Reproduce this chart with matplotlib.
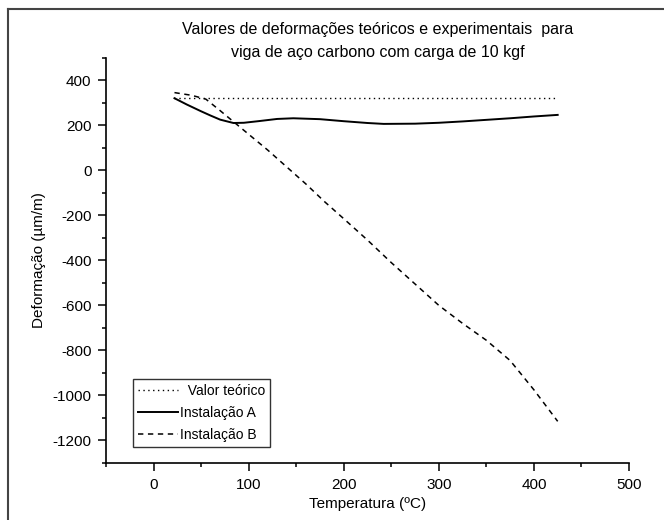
import matplotlib
matplotlib.use('Agg')
import matplotlib.pyplot as plt
from matplotlib.lines import Line2D

plt.rcParams['font.family'] = ['Liberation Sans', 'DejaVu Sans']
plt.rcParams['axes.unicode_minus'] = False

# temperatures (ºC) and strains (µm/m)
temp_a = [22, 35, 50, 60, 70, 84, 95, 110, 130, 147, 175, 200, 225, 242, 275, 300, 325, 350, 375, 400, 425]
inst_a = [320, 292, 262, 243, 225, 210, 211, 218, 228, 231, 227, 218, 210, 206, 207, 211, 217, 224, 231, 239, 246]

temp_b = [22, 40, 55, 70, 86, 100, 120, 140, 160, 180, 200, 225, 250, 275, 300, 325, 350, 375, 400, 425]
inst_b = [345, 333, 316, 265, 209, 160, 90, 15, -60, -140, -215, -310, -410, -505, -600, -680, -755, -845, -975, -1115]

temp_teo = [22, 425]
valor_teo = [320, 320]

title = 'Valores de deformações teóricos e experimentais  para\nviga de aço carbono com carga de 10 kgf'

fig = plt.figure(figsize=(6.64, 5.2), dpi=100)
ax = fig.add_axes([106/664, 57/520, 523/664, 405.3/520])

ax.plot(temp_teo, valor_teo, color='black', lw=1.0, linestyle=(0, (1, 2.5)))
ax.plot(temp_a, inst_a, color='black', lw=1.4)
ax.plot(temp_b, inst_b, color='black', lw=1.1, linestyle=(0, (3.5, 3)))

ax.set_xlim(-50, 500)
ax.set_ylim(-1300, 500)
ax.set_xticks([0, 100, 200, 300, 400, 500])
ax.set_xticks(range(-50, 501, 100), minor=True)
ax.set_yticks(range(-1200, 401, 200))
ax.set_yticks(range(-1300, 501, 200), minor=True)

for s in ['top', 'right']:
    ax.spines[s].set_visible(False)
for s in ['left', 'bottom']:
    ax.spines[s].set_linewidth(1.2)
ax.tick_params(which='major', direction='out', length=6, width=1.1, labelsize=11)
ax.tick_params(axis='x', which='major', pad=5)
ax.tick_params(axis='y', which='major', pad=4.5)
ax.tick_params(which='minor', direction='out', length=3, width=1.1)

ax.set_xlabel('Temperatura (ºC)', fontsize=11)
ax.set_ylabel('Deformação (µm/m)', fontsize=11)
ax.xaxis.set_label_coords(0.5, -0.085)
ax.yaxis.set_label_coords(-0.115, 0.5)
fig.text(378/664, 1 - 41/520, title, ha='center', va='center', fontsize=11.5, linespacing=1.6)

handles = [
    Line2D([], [], color='black', lw=1.0, linestyle=(0, (1, 2.5))),
    Line2D([], [], color='black', lw=1.4),
    Line2D([], [], color='black', lw=1.1, linestyle=(0, (3.5, 3))),
]
labels = ['  Valor teórico', 'Instalação A', 'Instalação B']
leg = ax.legend(handles, labels, loc='lower left', bbox_to_anchor=(0.051, 0.039),
                fontsize=10, frameon=True, fancybox=False, handlelength=2.9,
                handletextpad=0.15, borderpad=0.35, borderaxespad=0, labelspacing=0.59)
leg.get_frame().set_edgecolor('black')
leg.get_frame().set_linewidth(1.0)

# outer frame of the figure (top and left edges visible)
fig.add_artist(Line2D([8/664, 1], [1 - 9/520, 1 - 9/520], color='#444444', lw=1.5, transform=fig.transFigure))
fig.add_artist(Line2D([8/664, 8/664], [0, 1 - 9/520], color='#444444', lw=1.5, transform=fig.transFigure))

fig.savefig('out.png', dpi=100)
